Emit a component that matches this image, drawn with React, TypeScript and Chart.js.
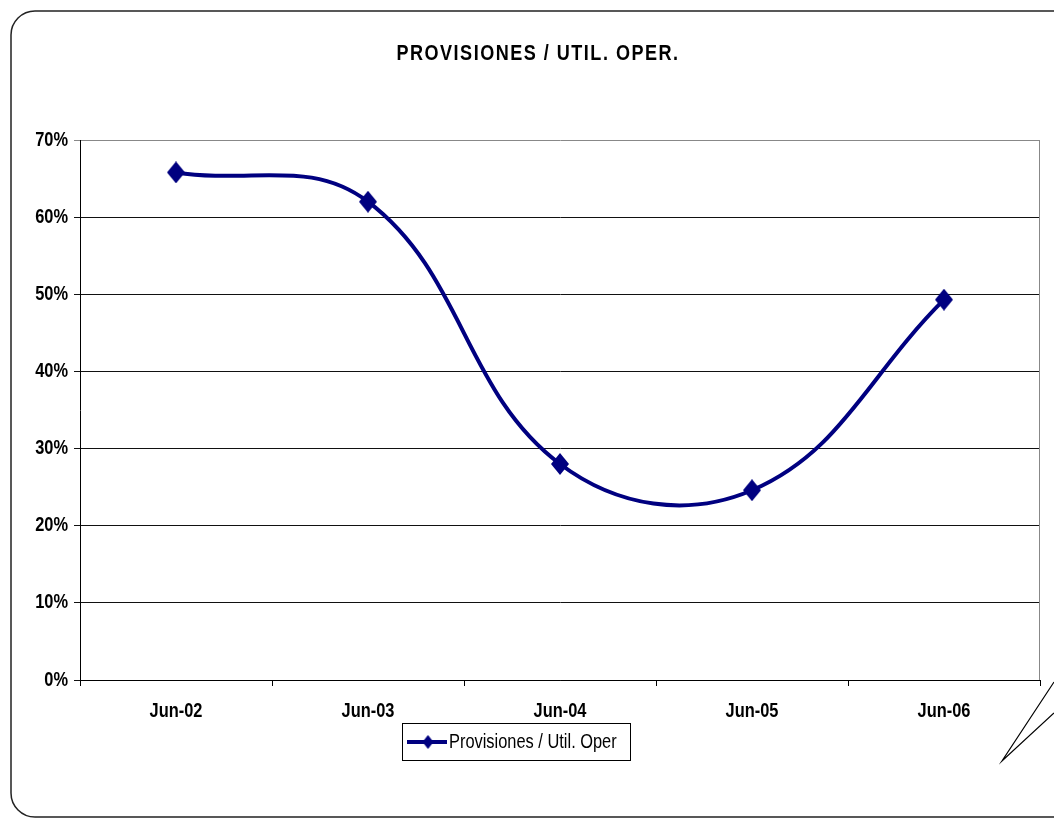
import React, { useEffect, useRef } from "react";
import { Chart, registerables } from "chart.js";

Chart.register(...registerables);

const categories = ["Jun-02", "Jun-03", "Jun-04", "Jun-05", "Jun-06"];
const seriesValues = [65.8, 62.0, 28.0, 24.6, 49.3];
const seriesLabel = "Provisiones / Util. Oper";
const chartTitle = "PROVISIONES / UTIL. OPER.";
const yTicks = [0, 10, 20, 30, 40, 50, 60, 70];

const NAVY = "#000080";
const FONT = "'Liberation Sans', Arial, sans-serif";
const SX = 0.82; // horizontal condensing to mimic a narrow face

function makeDiamond(w: number, h: number): HTMLCanvasElement {
  const c = document.createElement("canvas");
  c.width = w;
  c.height = h;
  const g = c.getContext("2d")!;
  g.fillStyle = NAVY;
  g.beginPath();
  g.moveTo(w / 2, 0);
  g.lineTo(w, h / 2);
  g.lineTo(w / 2, h);
  g.lineTo(0, h / 2);
  g.closePath();
  g.fill();
  return c;
}

function drawText(
  ctx: CanvasRenderingContext2D,
  text: string,
  x: number,
  y: number,
  align: CanvasTextAlign,
  font: string,
  spacing = 0
) {
  ctx.save();
  ctx.translate(x, y);
  ctx.scale(SX, 1);
  ctx.font = font;
  (ctx as any).letterSpacing = `${spacing / SX}px`;
  ctx.textAlign = align;
  ctx.textBaseline = "middle";
  ctx.fillStyle = "#000";
  ctx.fillText(text, 0, 0);
  ctx.restore();
}

export default function App() {
  const ref = useRef<HTMLCanvasElement | null>(null);

  useEffect(() => {
    document.body.style.margin = "0";
    const canvas = ref.current!;
    const diamond = makeDiamond(18, 22);
    const legendDiamond = makeDiamond(11, 14);

    const decor = {
      id: "decor",
      beforeDraw(chart: any) {
        const ctx = chart.ctx;
        ctx.save();
        ctx.fillStyle = "#fff";
        ctx.fillRect(0, 0, chart.width, chart.height);
        ctx.strokeStyle = "#222";
        ctx.lineWidth = 1.5;
        ctx.beginPath();
        (ctx as any).roundRect(11, 11, 1100, 806, 24);
        ctx.stroke();
        ctx.strokeStyle = "#000";
        ctx.lineWidth = 1.2;
        ctx.beginPath();
        ctx.moveTo(1054, 682);
        ctx.lineTo(1002, 761);
        ctx.lineTo(1054, 713);
        ctx.stroke();
        ctx.restore();
        drawText(ctx, chartTitle, 538, 54, "center", `bold 22px ${FONT}`, 1.5);
      },
      beforeDatasetsDraw(chart: any) {
        const ctx = chart.ctx;
        const a = chart.chartArea;
        ctx.save();
        ctx.strokeStyle = "#888";
        ctx.lineWidth = 1;
        ctx.beginPath();
        ctx.moveTo(Math.round(a.right) - 0.5, a.top);
        ctx.lineTo(Math.round(a.right) - 0.5, a.bottom);
        ctx.stroke();
        ctx.restore();
        const ys = chart.scales.y;
        const xs = chart.scales.x;
        const tickFont = `bold 20px ${FONT}`;
        ys.ticks.forEach((t: any) => {
          drawText(ctx, `${t.value}%`, a.left - 12, ys.getPixelForValue(t.value), "right", tickFont);
        });
        chart.data.labels.forEach((lab: string, i: number) => {
          drawText(ctx, lab, xs.getPixelForValue(i), a.bottom + 31, "center", tickFont);
        });
      },
      afterDraw(chart: any) {
        const ctx = chart.ctx;
        ctx.save();
        const bx = 402.5, by = 723.5, bw = 228, bh = 37;
        ctx.strokeStyle = "#000";
        ctx.lineWidth = 1;
        ctx.strokeRect(bx, by, bw, bh);
        const cy = by + bh / 2;
        ctx.strokeStyle = NAVY;
        ctx.lineWidth = 4;
        ctx.beginPath();
        ctx.moveTo(407, cy);
        ctx.lineTo(447, cy);
        ctx.stroke();
        ctx.drawImage(legendDiamond, 428 - 5.5, cy - 7);
        ctx.restore();
        drawText(ctx, chart.data.datasets[0].label, 449, cy, "left", `20px ${FONT}`);
      },
    };

    const chart = new Chart(canvas, {
      type: "line",
      data: {
        labels: categories,
        datasets: [
          {
            label: seriesLabel,
            data: seriesValues,
            borderColor: NAVY,
            backgroundColor: NAVY,
            borderWidth: 4,
            tension: 0.4,
            fill: false,
            pointStyle: diamond as any,
            pointRadius: 9,
          },
        ],
      },
      options: {
        responsive: false,
        devicePixelRatio: 1,
        animation: false,
        events: [],
        layout: { padding: { left: 20, right: 14, top: 140, bottom: 81 } },
        plugins: {
          legend: { display: false },
          title: { display: false },
          tooltip: { enabled: false },
        },
        scales: {
          x: {
            offset: true,
            grid: {
              offset: true,
              drawOnChartArea: false,
              drawTicks: true,
              tickLength: 6,
              color: "#000",
            },
            border: { color: "#000", width: 1 },
            ticks: { display: false },
            afterFit: (s: any) => {
              s.height = 60;
            },
          },
          y: {
            min: 0,
            max: 70,
            afterBuildTicks: (s: any) => {
              s.ticks = yTicks.map((v) => ({ value: v }));
            },
            grid: {
              color: (c: any) => (c.tick && c.tick.value === 70 ? "#888" : "#111"),
              tickLength: 6,
              lineWidth: 1,
            },
            border: { color: "#000", width: 1 },
            ticks: { display: false },
            afterFit: (s: any) => {
              s.width = 60;
            },
          },
        },
      },
      plugins: [decor],
    });

    return () => chart.destroy();
  }, []);

  return (
    <div style={{ width: 1054, height: 821 }}>
      <canvas ref={ref} width={1054} height={821} style={{ display: "block" }} />
    </div>
  );
}
